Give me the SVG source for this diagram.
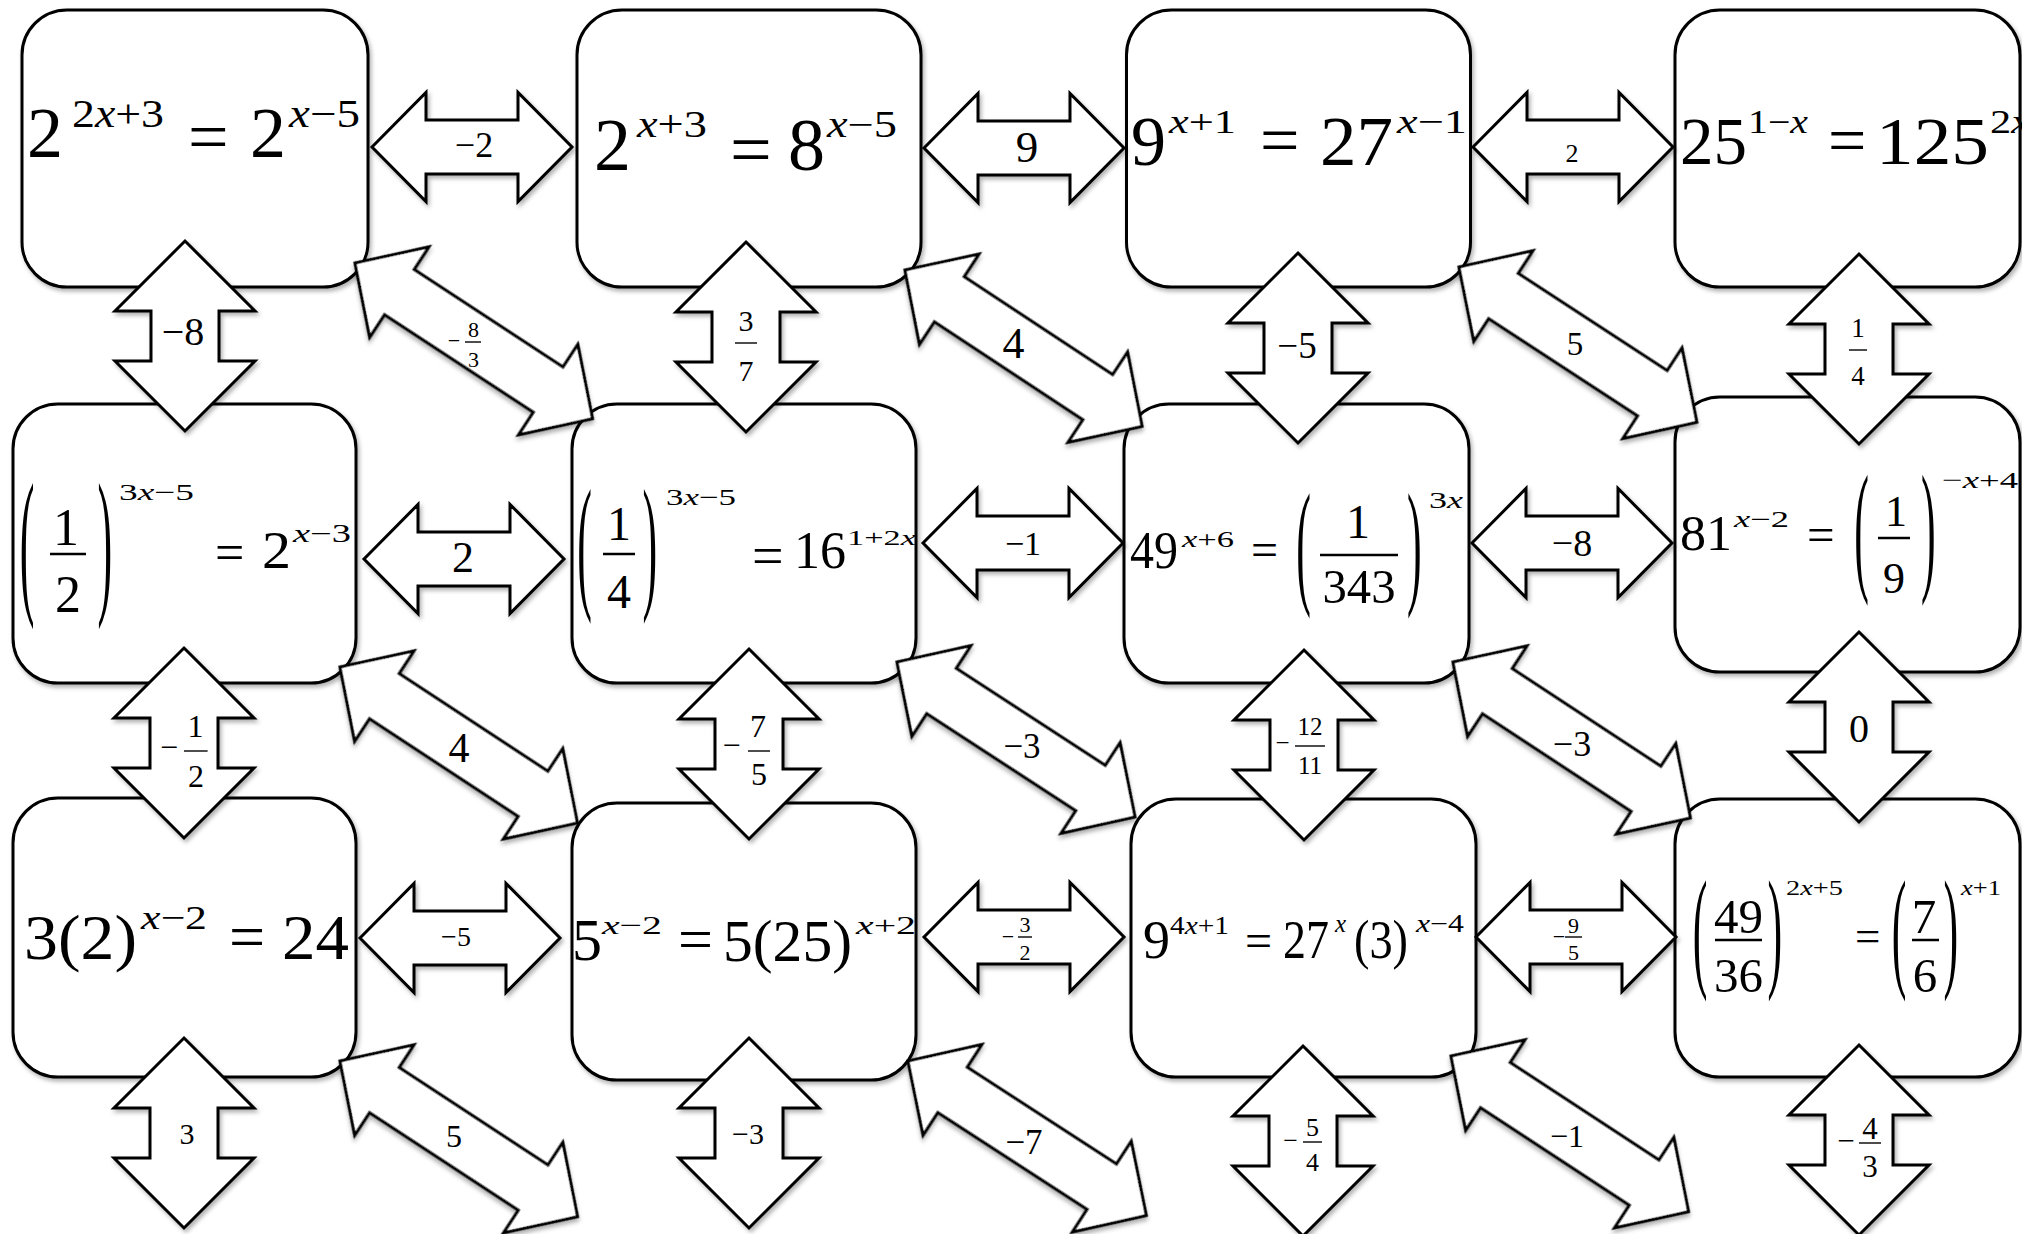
<svg xmlns="http://www.w3.org/2000/svg" width="2022" height="1234" viewBox="0 0 2022 1234">
<defs>
<style>
.m{font-family:"Liberation Serif","Times New Roman",serif;fill:#000}
.i{font-style:italic}
.box{fill:#fff;stroke:#000;stroke-width:3;filter:url(#sh)}
.arr{fill:#fff;stroke:#000;stroke-width:3;stroke-linejoin:miter}
.ar{filter:url(#sh)}
.bar{stroke:#000;stroke-width:2.5}
.fb{stroke:#000;stroke-width:1.4}
.c{text-anchor:middle}
</style>
<filter id="sh" x="-10%" y="-10%" width="130%" height="130%">
<feDropShadow dx="2" dy="3" stdDeviation="2" flood-color="#000" flood-opacity="0.3"/>
</filter>
<path id="ah" class="arr" d="M0,0 L54,-54.5 L54,-27 L146,-27 L146,-54.5 L200,0 L146,54.5 L146,27 L54,27 L54,54.5 Z"/>
<path id="av" class="arr" d="M0,0 L70,70 L34,70 L34,120 L70,120 L0,190 L-70,120 L-34,120 L-34,70 L-70,70 Z"/>
<path id="ad" class="arr" d="M0,0 L53,-54 L53,-27 L231,-27 L231,-54 L284,0 L231,54 L231,27 L53,27 L53,54 Z"/>
</defs>
<rect x="0" y="0" width="2022" height="1234" fill="#fff"/>

<g id="nodes">
<g id="node-a1">
<rect class="box" x="22" y="10" width="346" height="277" rx="45"/>
<text class="m" x="27" y="157" font-size="72">2</text>
<text class="m" x="72" y="127" font-size="40" textLength="92" lengthAdjust="spacingAndGlyphs">2<tspan class="i">x</tspan>+3</text>
<text class="m" x="188" y="160.7" font-size="72">=</text>
<text class="m" x="250" y="157" font-size="72">2</text>
<text class="m" x="289" y="127" font-size="40" textLength="71" lengthAdjust="spacingAndGlyphs"><tspan class="i">x</tspan>−5</text>
</g>
<g id="node-a2">
<rect class="box" x="577" y="10" width="344" height="277" rx="45"/>
<text class="m" x="594" y="170" font-size="74">2</text>
<text class="m" x="637" y="137" font-size="37" textLength="70" lengthAdjust="spacingAndGlyphs"><tspan class="i">x</tspan>+3</text>
<text class="m" x="730" y="173.7" font-size="74">=</text>
<text class="m" x="788" y="170" font-size="74">8</text>
<text class="m" x="827" y="137" font-size="37" textLength="70" lengthAdjust="spacingAndGlyphs"><tspan class="i">x</tspan>−5</text>
</g>
<g id="node-a3">
<rect class="box" x="1126.5" y="10" width="344" height="277" rx="45"/>
<text class="m" x="1131" y="165" font-size="70">9</text>
<text class="m" x="1169" y="133" font-size="34" textLength="67" lengthAdjust="spacingAndGlyphs"><tspan class="i">x</tspan>+1</text>
<text class="m" x="1260" y="164" font-size="70">=</text>
<text class="m" x="1320" y="165" font-size="70" textLength="73" lengthAdjust="spacingAndGlyphs">27</text>
<text class="m" x="1397" y="133" font-size="34" textLength="70" lengthAdjust="spacingAndGlyphs"><tspan class="i">x</tspan>−1</text>
</g>
<g id="node-a4">
<rect class="box" x="1675" y="10" width="345" height="277" rx="45"/>
<text class="m" x="1680" y="164" font-size="68" textLength="67" lengthAdjust="spacingAndGlyphs">25</text>
<text class="m" x="1748" y="133" font-size="33" textLength="60" lengthAdjust="spacingAndGlyphs">1−<tspan class="i">x</tspan></text>
<text class="m" x="1828" y="163" font-size="68">=</text>
<text class="m" x="1876" y="164" font-size="68" textLength="113" lengthAdjust="spacingAndGlyphs">125</text>
<text class="m" x="1990" y="133" font-size="33" textLength="40" lengthAdjust="spacingAndGlyphs">2<tspan class="i">x</tspan></text>
</g>

<g id="node-b1">
<rect class="box" x="13" y="404" width="343" height="279" rx="45"/>
<text class="m" font-size="40" x="0" y="10" transform="translate(19.8,554) scale(1.1,4.05)">(</text>
<text class="m c" x="66" y="545" font-size="52">1</text>
<line class="bar" x1="50" y1="554" x2="86" y2="554"/>
<text class="m c" x="68" y="612" font-size="52">2</text>
<text class="m" font-size="40" x="0" y="10" transform="translate(97.6,554) scale(1.1,4.05)">)</text>
<text class="m" x="119" y="500" font-size="23" textLength="75" lengthAdjust="spacingAndGlyphs">3<tspan class="i">x</tspan>−5</text>
<text class="m" x="215" y="570" font-size="52">=</text>
<text class="m" x="262" y="568" font-size="52" textLength="29" lengthAdjust="spacingAndGlyphs">2</text>
<text class="m" x="293" y="542" font-size="25" textLength="58" lengthAdjust="spacingAndGlyphs"><tspan class="i">x</tspan>−3</text>
</g>
<g id="node-b2">
<rect class="box" x="572" y="404" width="344" height="279" rx="45"/>
<text class="m" font-size="40" x="0" y="10" transform="translate(577.3,555) scale(1.1,3.7)">(</text>
<text class="m c" x="619" y="540" font-size="48">1</text>
<line class="bar" x1="603" y1="554" x2="635" y2="554"/>
<text class="m c" x="619" y="608" font-size="48">4</text>
<text class="m" font-size="40" x="0" y="10" transform="translate(642.6,555) scale(1.1,3.7)">)</text>
<text class="m" x="666" y="505" font-size="23" textLength="70" lengthAdjust="spacingAndGlyphs">3<tspan class="i">x</tspan>−5</text>
<text class="m" x="752" y="575" font-size="56">=</text>
<text class="m" x="794" y="568" font-size="52" textLength="52" lengthAdjust="spacingAndGlyphs">16</text>
<text class="m" x="847" y="545" font-size="22" textLength="69" lengthAdjust="spacingAndGlyphs">1+2<tspan class="i">x</tspan></text>
</g>
<g id="node-b3">
<rect class="box" x="1124" y="404" width="345" height="279" rx="45"/>
<text class="m" x="1130" y="568" font-size="52" textLength="48" lengthAdjust="spacingAndGlyphs">49</text>
<text class="m" x="1182" y="547" font-size="24" textLength="52" lengthAdjust="spacingAndGlyphs"><tspan class="i">x</tspan>+6</text>
<text class="m" x="1251" y="566" font-size="48">=</text>
<text class="m" font-size="40" x="0" y="10" transform="translate(1296.3,554) scale(1.1,3.46)">(</text>
<text class="m c" x="1358" y="538" font-size="48">1</text>
<line class="bar" x1="1320" y1="555" x2="1398" y2="555"/>
<text class="m c" x="1359" y="603" font-size="49" textLength="73" lengthAdjust="spacingAndGlyphs">343</text>
<text class="m" font-size="40" x="0" y="10" transform="translate(1407.1,554) scale(1.1,3.46)">)</text>
<text class="m" x="1429" y="508" font-size="23" textLength="34" lengthAdjust="spacingAndGlyphs">3<tspan class="i">x</tspan></text>
</g>
<g id="node-b4">
<rect class="box" x="1675" y="397" width="345" height="275" rx="45"/>
<text class="m" x="1680" y="550" font-size="50" textLength="52" lengthAdjust="spacingAndGlyphs">81</text>
<text class="m" x="1734" y="527" font-size="23" textLength="55" lengthAdjust="spacingAndGlyphs"><tspan class="i">x</tspan>−2</text>
<text class="m" x="1807" y="551.4" font-size="49">=</text>
<text class="m" font-size="40" x="0" y="10" transform="translate(1854.3,538.5) scale(1.1,3.61)">(</text>
<text class="m c" x="1896" y="526" font-size="44">1</text>
<line class="bar" x1="1878" y1="538" x2="1910" y2="538"/>
<text class="m c" x="1894" y="593" font-size="44">9</text>
<text class="m" font-size="40" x="0" y="10" transform="translate(1921.1,538.5) scale(1.1,3.61)">)</text>
<text class="m" x="1942" y="488" font-size="24" textLength="76" lengthAdjust="spacingAndGlyphs">−<tspan class="i">x</tspan>+4</text>
</g>

<g id="node-c1">
<rect class="box" x="13" y="798" width="343" height="279" rx="45"/>
<text class="m" x="24" y="959" font-size="64" textLength="113" lengthAdjust="spacingAndGlyphs">3(2)</text>
<text class="m" x="141" y="929" font-size="34" textLength="66" lengthAdjust="spacingAndGlyphs"><tspan class="i">x</tspan>−2</text>
<text class="m" x="229" y="958" font-size="64">=</text>
<text class="m" x="282" y="959" font-size="64" textLength="67" lengthAdjust="spacingAndGlyphs">24</text>
</g>
<g id="node-c2">
<rect class="box" x="572" y="803" width="344" height="277" rx="45"/>
<text class="m" x="572" y="960" font-size="60">5</text>
<text class="m" x="602" y="934" font-size="26" textLength="60" lengthAdjust="spacingAndGlyphs"><tspan class="i">x</tspan>−2</text>
<text class="m" x="678" y="959.7" font-size="62">=</text>
<text class="m" x="723" y="961" font-size="60" textLength="129" lengthAdjust="spacingAndGlyphs">5(25)</text>
<text class="m" x="856" y="934" font-size="26" textLength="60" lengthAdjust="spacingAndGlyphs"><tspan class="i">x</tspan>+2</text>
</g>
<g id="node-c3">
<rect class="box" x="1131" y="799" width="345" height="278" rx="45"/>
<text class="m" x="1143" y="958" font-size="54">9</text>
<text class="m" x="1170" y="934" font-size="25" textLength="59" lengthAdjust="spacingAndGlyphs">4<tspan class="i">x</tspan>+1</text>
<text class="m" x="1245" y="957" font-size="48">=</text>
<text class="m" x="1283" y="958" font-size="54" textLength="46" lengthAdjust="spacingAndGlyphs">27</text>
<text class="m i" x="1335" y="932" font-size="25">x</text>
<text class="m" x="1354" y="958" font-size="54" textLength="54" lengthAdjust="spacingAndGlyphs">(3)</text>
<text class="m" x="1416" y="932" font-size="25" textLength="48" lengthAdjust="spacingAndGlyphs"><tspan class="i">x</tspan>−4</text>
</g>
<g id="node-c4">
<rect class="box" x="1675" y="799" width="345" height="278" rx="45"/>
<text class="m" font-size="40" x="0" y="10" transform="translate(1692.8,940) scale(1.1,3.34)">(</text>
<text class="m c" x="1738.5" y="933" font-size="49">49</text>
<line class="bar" x1="1715" y1="940" x2="1762" y2="940"/>
<text class="m c" x="1738.5" y="992" font-size="49">36</text>
<text class="m" font-size="40" x="0" y="10" transform="translate(1767.6,940) scale(1.1,3.34)">)</text>
<text class="m" x="1786" y="895" font-size="20" textLength="57" lengthAdjust="spacingAndGlyphs">2<tspan class="i">x</tspan>+5</text>
<text class="m" x="1855" y="951" font-size="45">=</text>
<text class="m" font-size="40" x="0" y="10" transform="translate(1891.8,940) scale(1.1,3.34)">(</text>
<text class="m c" x="1924" y="933" font-size="49">7</text>
<line class="bar" x1="1912" y1="940" x2="1939" y2="940"/>
<text class="m c" x="1925" y="992" font-size="49">6</text>
<text class="m" font-size="40" x="0" y="10" transform="translate(1943.6,940) scale(1.1,3.34)">)</text>
<text class="m" x="1961" y="895" font-size="20" textLength="40" lengthAdjust="spacingAndGlyphs"><tspan class="i">x</tspan>+1</text>
</g>
</g>

<g id="connectors">
<g id="e-a1-a2"><use class="ar" href="#ah" transform="translate(372,147)"/><text class="m c" x="474" y="157" font-size="36">−2</text></g>
<g id="e-a2-a3"><use class="ar" href="#ah" transform="translate(924,148)"/><text class="m c" x="1027" y="162" font-size="45">9</text></g>
<g id="e-a3-a4"><use class="ar" href="#ah" transform="translate(1473,147)"/><text class="m c" x="1572" y="162" font-size="26">2</text></g>
<g id="e-b1-b2"><use class="ar" href="#ah" transform="translate(364,559)"/><text class="m c" x="463" y="572" font-size="44">2</text></g>
<g id="e-b2-b3"><use class="ar" href="#ah" transform="translate(923,543)"/><text class="m c" x="1023" y="555" font-size="34">−1</text></g>
<g id="e-b3-b4"><use class="ar" href="#ah" transform="translate(1472,543)"/><text class="m c" x="1572" y="556" font-size="38">−8</text></g>
<g id="e-c1-c2"><use class="ar" href="#ah" transform="translate(360,938)"/><text class="m c" x="456" y="946" font-size="28">−5</text></g>
<g id="e-c2-c3"><use class="ar" href="#ah" transform="translate(924,937)"/>
<text class="m c" x="1008" y="943.5" font-size="22">−</text><text class="m c" x="1025" y="932" font-size="22">3</text><line class="fb" x1="1018" y1="937" x2="1032" y2="937"/><text class="m c" x="1025" y="960" font-size="22">2</text></g>
<g id="e-c3-c4"><use class="ar" href="#ah" transform="translate(1476,937)"/>
<text class="m c" x="1559" y="943.5" font-size="22">−</text><text class="m c" x="1573.5" y="933" font-size="22">9</text><line class="fb" x1="1565" y1="937" x2="1582" y2="937"/><text class="m c" x="1573.5" y="960" font-size="22">5</text></g>
<g id="e-a1-b1"><use class="ar" href="#av" transform="translate(185,241)"/><text class="m c" x="183" y="345" font-size="40">−8</text></g>
<g id="e-b1-c1"><use class="ar" href="#av" transform="translate(184,648)"/>
<text class="m c" x="169" y="758" font-size="32">−</text><text class="m c" x="195.5" y="737" font-size="32">1</text><line class="fb" x1="184" y1="751" x2="207.6" y2="751"/><text class="m c" x="196" y="787" font-size="32">2</text></g>
<g id="e-c1-down"><use class="ar" href="#av" transform="translate(184,1038)"/><text class="m c" x="187" y="1144" font-size="30">3</text></g>
<g id="e-a2-b2"><use class="ar" href="#av" transform="translate(746,242)"/>
<text class="m c" x="746" y="331" font-size="30">3</text><line class="fb" x1="735" y1="343" x2="757" y2="343"/><text class="m c" x="746" y="381" font-size="30">7</text></g>
<g id="e-b2-c2"><use class="ar" href="#av" transform="translate(749,649)"/>
<text class="m c" x="731.5" y="756" font-size="32">−</text><text class="m c" x="758" y="737" font-size="32">7</text><line class="fb" x1="748" y1="751" x2="770" y2="751"/><text class="m c" x="759" y="785" font-size="32">5</text></g>
<g id="e-c2-down"><use class="ar" href="#av" transform="translate(749,1038)"/><text class="m c" x="748" y="1144" font-size="30">−3</text></g>
<g id="e-a3-b3"><use class="ar" href="#av" transform="translate(1298,253)"/><text class="m c" x="1297" y="358" font-size="37">−5</text></g>
<g id="e-b3-c3"><use class="ar" href="#av" transform="translate(1304,650)"/>
<text class="m c" x="1282.5" y="751" font-size="25">−</text><text class="m c" x="1310" y="735" font-size="25">12</text><line class="fb" x1="1295" y1="746" x2="1325" y2="746"/><text class="m c" x="1310" y="774" font-size="25">11</text></g>
<g id="e-c3-down"><use class="ar" href="#av" transform="translate(1303,1046)"/>
<text class="m c" x="1290.5" y="1148.5" font-size="26">−</text><text class="m c" x="1312.5" y="1136" font-size="26">5</text><line class="fb" x1="1303" y1="1142" x2="1322" y2="1142"/><text class="m c" x="1312.5" y="1171" font-size="26">4</text></g>
<g id="e-a4-b4"><use class="ar" href="#av" transform="translate(1859,254)"/>
<text class="m c" x="1858" y="337" font-size="27">1</text><line class="fb" x1="1849" y1="350" x2="1867" y2="350"/><text class="m c" x="1858" y="385" font-size="27">4</text></g>
<g id="e-b4-c4"><use class="ar" href="#av" transform="translate(1859,632)"/><text class="m c" x="1859" y="742" font-size="40">0</text></g>
<g id="e-c4-down"><use class="ar" href="#av" transform="translate(1859,1045)"/>
<text class="m c" x="1846" y="1150.7" font-size="31">−</text><text class="m c" x="1870" y="1139" font-size="31">4</text><line class="fb" x1="1859" y1="1143" x2="1881" y2="1143"/><text class="m c" x="1870" y="1177" font-size="31">3</text></g>
<g id="e-a1-b2"><use class="ar" href="#ad" transform="translate(355,263) rotate(33.24)"/>
<text class="m c" x="454" y="347.5" font-size="22">−</text><text class="m c" x="473.5" y="337" font-size="22">8</text><line class="fb" x1="465" y1="342" x2="481" y2="342"/><text class="m c" x="473.5" y="367" font-size="22">3</text></g>
<g id="e-a2-b3"><use class="ar" href="#ad" transform="translate(905,270) rotate(33.41)"/><text class="m c" x="1013.5" y="358" font-size="44">4</text></g>
<g id="e-a3-b4"><use class="ar" href="#ad" transform="translate(1459,267) rotate(33.13)"/><text class="m c" x="1575" y="355" font-size="33">5</text></g>
<g id="e-b1-c2"><use class="ar" href="#ad" transform="translate(340,667) rotate(33.3)"/><text class="m c" x="459" y="762" font-size="42">4</text></g>
<g id="e-b2-c3"><use class="ar" href="#ad" transform="translate(897,662) rotate(33.07)"/><text class="m c" x="1022" y="758" font-size="35">−3</text></g>
<g id="e-b3-c4"><use class="ar" href="#ad" transform="translate(1453,662) rotate(33.3)"/><text class="m c" x="1572" y="756" font-size="36">−3</text></g>
<g id="e-c1-out"><use class="ar" href="#ad" transform="translate(340,1061) rotate(33.24)"/><text class="m c" x="454" y="1147" font-size="32">5</text></g>
<g id="e-c2-out"><use class="ar" href="#ad" transform="translate(908,1061) rotate(32.96)"/><text class="m c" x="1024" y="1154" font-size="35">−7</text></g>
<g id="e-c3-out"><use class="ar" href="#ad" transform="translate(1451,1056) rotate(33.24)"/><text class="m c" x="1567" y="1147" font-size="32">−1</text></g>
</g>
</svg>
